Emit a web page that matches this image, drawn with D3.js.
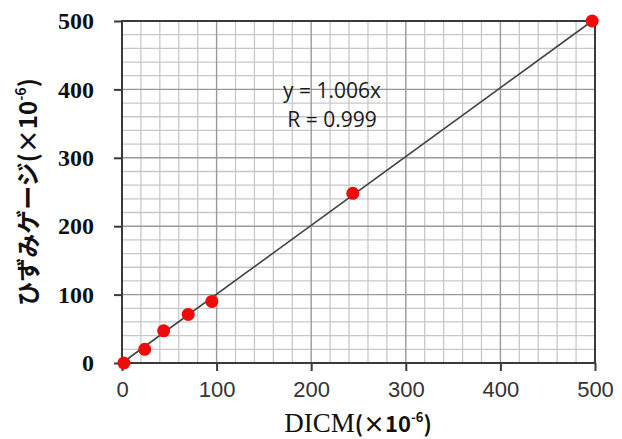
<!DOCTYPE html>
<html>
<head>
<meta charset="utf-8">
<script src="https://cdn.jsdelivr.net/npm/d3@7"></script>
<style>
  body { margin: 0; background: #fff; }
  svg { display: block; }
</style>
</head>
<body>
<div id="chart"></div>
<script>
// measured points (DICM vs strain gauge, x10^-6)
const dicm  = [2, 24, 44, 70, 95, 244, 497];
const gauge = [0, 20, 47, 71, 90, 248, 500];
const ticks = [0, 100, 200, 300, 400, 500];
const slope = 1.006;
const fitLabels = ["y = 1.006x", "R = 0.999"];

const width = 622, height = 439;
const margin = { top: 21, right: 27, bottom: 76, left: 122 };

const svg = d3.select("#chart")
  .append("svg")
  .attr("width", width)
  .attr("height", height);

const x = d3.scaleLinear().domain([0, 500]).range([margin.left, width - margin.right]);
const y = d3.scaleLinear().domain([0, 500]).range([height - margin.bottom, margin.top]);

// grid: minor every 20, major every 100
const minor = d3.range(20, 500, 20).filter(v => v % 100 !== 0);
const major = ticks.filter(v => v > 0 && v < 500);

const grid = svg.append("g");
grid.selectAll(".vmin").data(minor).join("line")
  .attr("x1", d => x(d)).attr("x2", d => x(d))
  .attr("y1", y(0)).attr("y2", y(500))
  .attr("stroke", "#c8c8c8").attr("stroke-width", 1.3);
grid.selectAll(".hmin").data(minor).join("line")
  .attr("y1", d => y(d)).attr("y2", d => y(d))
  .attr("x1", x(0)).attr("x2", x(500))
  .attr("stroke", "#c8c8c8").attr("stroke-width", 1.3);
grid.selectAll(".vmaj").data(major).join("line")
  .attr("x1", d => x(d)).attr("x2", d => x(d))
  .attr("y1", y(0)).attr("y2", y(500))
  .attr("stroke", "#999").attr("stroke-width", 1.4);
grid.selectAll(".hmaj").data(major).join("line")
  .attr("y1", d => y(d)).attr("y2", d => y(d))
  .attr("x1", x(0)).attr("x2", x(500))
  .attr("stroke", "#999").attr("stroke-width", 1.4);

// frame
svg.append("rect")
  .attr("x", x(0)).attr("y", y(500))
  .attr("width", x(500) - x(0)).attr("height", y(0) - y(500))
  .attr("fill", "none").attr("stroke", "#3a3a3a").attr("stroke-width", 2);

// axes
svg.append("g")
  .attr("transform", `translate(0,${y(0)})`)
  .call(d3.axisBottom(x).tickValues(ticks).tickSize(8).tickPadding(10))
  .call(g => g.select(".domain").remove())
  .call(g => g.selectAll("line").attr("stroke", "#3a3a3a").attr("stroke-width", 2))
  .call(g => g.selectAll("text")
    .attr("font-family", "Liberation Sans, Arial, sans-serif")
    .attr("font-size", "22px").attr("fill", "#333"));

svg.append("g")
  .attr("transform", `translate(${x(0)},0)`)
  .call(d3.axisLeft(y).tickValues(ticks).tickSize(8).tickPadding(20))
  .call(g => g.select(".domain").remove())
  .call(g => g.selectAll("line").attr("stroke", "#3a3a3a").attr("stroke-width", 2))
  .call(g => g.selectAll("text")
    .attr("font-family", "Liberation Serif, serif")
    .attr("font-weight", "bold")
    .attr("font-size", "24px").attr("fill", "#111"));

// fit line
svg.append("line")
  .attr("x1", x(0)).attr("y1", y(0))
  .attr("x2", x(d3.max(dicm))).attr("y2", y(slope * d3.max(dicm)))
  .attr("stroke", "#444").attr("stroke-width", 1.6);

// points
svg.append("g")
  .selectAll("circle")
  .data(dicm)
  .join("circle")
    .attr("cx", d => x(d))
    .attr("cy", (d, i) => y(gauge[i]))
    .attr("r", 6.5)
    .attr("fill", "#f00a0a");

// fit text
svg.append("g")
  .selectAll("text")
  .data(fitLabels)
  .join("text")
    .attr("x", 332)
    .attr("y", (d, i) => 98 + i * 29)
    .attr("text-anchor", "middle")
    .attr("font-family", "Open Sans, sans-serif")
    .attr("font-size", "21px")
    .attr("fill", "#1a1a1a")
    .text(d => d);

// x axis title
const xt = svg.append("text")
  .attr("x", 358).attr("y", 432)
  .attr("text-anchor", "middle")
  .attr("fill", "#111");
xt.append("tspan").attr("font-family", "Liberation Serif, serif").attr("font-size", "27px").text("DICM");
xt.append("tspan").attr("font-family", "Noto Sans CJK JP").attr("font-size", "22px").attr("font-weight", "bold").text("(×10");
xt.append("tspan").attr("font-family", "Noto Sans CJK JP").attr("font-size", "13px").attr("font-weight", "bold").attr("dy", -10).text("-6");
xt.append("tspan").attr("font-family", "Noto Sans CJK JP").attr("font-size", "22px").attr("font-weight", "bold").attr("dy", 10).text(")");

// y axis title
const yt = svg.append("text")
  .attr("transform", "translate(37,192) rotate(-90)")
  .attr("text-anchor", "middle")
  .attr("font-family", "Noto Sans CJK JP")
  .attr("font-weight", "bold")
  .attr("fill", "#111");
yt.append("tspan").attr("font-size", "24px").text("ひずみゲージ(×10");
yt.append("tspan").attr("font-size", "14px").attr("dy", -11).text("-6");
yt.append("tspan").attr("font-size", "24px").attr("dy", 11).text(")");
</script>
</body>
</html>
